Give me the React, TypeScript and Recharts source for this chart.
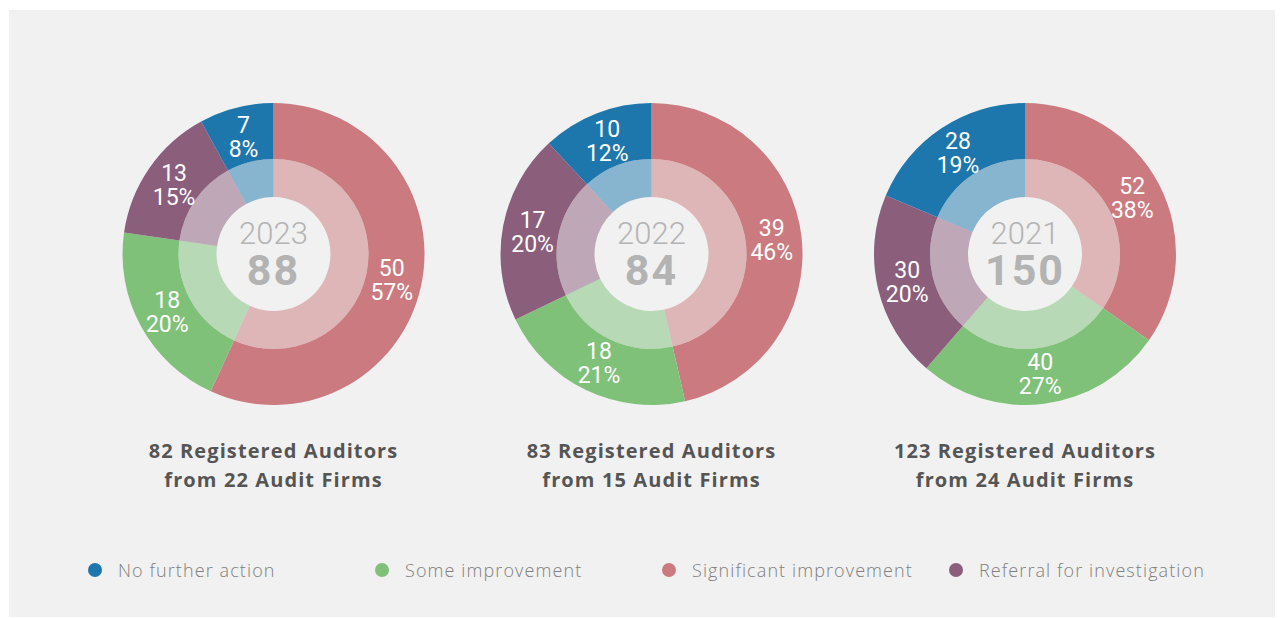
import { Pie, PieChart, Cell } from "recharts"

// clockwise from 12 o'clock: significant, some, referral, no further action
const categories = ["Significant improvement", "Some improvement", "Referral for investigation", "No further action"]
const colors = ["#cb7b80", "#80c17a", "#8b5e7c", "#1d77ac"]
const legendOrder = [3, 1, 0, 2]

const years = ["2023", "2022", "2021"]
const significant = [50, 39, 52]
const some = [18, 18, 40]
const referral = [13, 17, 30]
const noFurther = [7, 10, 28]

// percentages as printed on the chart
const significantPct = ["57%", "46%", "38%"]
const somePct = ["20%", "21%", "27%"]
const referralPct = ["15%", "20%", "20%"]
const noFurtherPct = ["8%", "12%", "19%"]

const auditors = [82, 83, 123]
const firms = [22, 15, 24]

const centersX = [264.5, 642.5, 1016]
const centerY = 244
const RAD = Math.PI / 180

const buildData = (i: number) => [
  { name: categories[0], value: significant[i], pct: significantPct[i] },
  { name: categories[1], value: some[i], pct: somePct[i] },
  { name: categories[2], value: referral[i], pct: referralPct[i] },
  { name: categories[3], value: noFurther[i], pct: noFurtherPct[i] },
]

const renderLabel = (p: any) => {
  const r = 121
  const x = p.cx + r * Math.cos(-p.midAngle * RAD)
  const y = p.cy + r * Math.sin(-p.midAngle * RAD)
  return (
    <text x={x} y={y} textAnchor="middle" fill="#ffffff" fontSize={23} fontFamily="Roboto" fontWeight={400}>
      <tspan x={x} dy={-4}>{p.payload.value}</tspan>
      <tspan x={x} dy={24}>{p.payload.pct}</tspan>
    </text>
  )
}

export default function App() {
  return (
    <div
      style={{
        position: "relative",
        width: 1266,
        height: 607,
        marginLeft: 1,
        marginTop: 2,
        background: "#f1f1f1",
        fontFamily: "Roboto",
      }}
    >
      <PieChart
        width={1266}
        height={430}
        margin={{ top: 0, right: 0, bottom: 0, left: 0 }}
        style={{ position: "absolute", left: 0, top: 0 }}
      >
        {years.map((year, i) => (
          <Pie
            key={`in-${year}`}
            data={buildData(i)}
            dataKey="value"
            cx={centersX[i]}
            cy={centerY}
            innerRadius={57}
            outerRadius={95}
            startAngle={90}
            endAngle={-270}
            stroke="none"
            isAnimationActive={false}
          >
            {categories.map((c, k) => (
              <Cell key={c} fill={colors[k]} fillOpacity={0.5} />
            ))}
          </Pie>
        ))}
        {years.map((year, i) => (
          <Pie
            key={`out-${year}`}
            data={buildData(i)}
            dataKey="value"
            cx={centersX[i]}
            cy={centerY}
            innerRadius={95}
            outerRadius={151}
            startAngle={90}
            endAngle={-270}
            stroke="none"
            label={renderLabel}
            labelLine={false}
            isAnimationActive={false}
          >
            {categories.map((c, k) => (
              <Cell key={c} fill={colors[k]} />
            ))}
          </Pie>
        ))}
      </PieChart>

      {years.map((year, i) => {
        const total = significant[i] + some[i] + referral[i] + noFurther[i]
        return (
          <div key={`c-${year}`}>
            <div
              style={{
                position: "absolute",
                left: centersX[i] - 60,
                width: 120,
                top: 224 - 13,
                height: 26,
                lineHeight: "26px",
                fontSize: 31,
                fontWeight: 300,
                color: "#b4b4b4",
                textAlign: "center",
              }}
            >
              {year}
            </div>
            <div
              style={{
                position: "absolute",
                left: centersX[i] - 60,
                width: 120,
                top: 260 - 18,
                height: 36,
                lineHeight: "36px",
                fontSize: 43,
                fontWeight: 700,
                letterSpacing: 2,
                color: "#b3b3b3",
                textAlign: "center",
              }}
            >
              {total}
            </div>
            <div
              style={{
                position: "absolute",
                left: centersX[i] - 180,
                width: 360,
                top: 426,
                fontSize: 20,
                lineHeight: "29px",
                fontWeight: 700,
                letterSpacing: 1.1,
                fontFamily: "'Open Sans'",
                color: "#555555",
                textAlign: "center",
              }}
            >
              {auditors[i]} Registered Auditors
              <br />
              from {firms[i]} Audit Firms
            </div>
          </div>
        )
      })}

      {legendOrder.map((k, j) => (
        <div
          key={categories[k]}
          style={{
            position: "absolute",
            left: 79 + j * 287,
            top: 548,
            height: 24,
            display: "flex",
            alignItems: "center",
            fontSize: 18,
            fontWeight: 300,
            letterSpacing: 1.1,
            fontFamily: "'Open Sans'",
            color: "#808080",
          }}
        >
          <span
            style={{
              display: "inline-block",
              width: 14,
              height: 14,
              borderRadius: 7,
              background: colors[k],
              marginRight: 16,
            }}
          />
          {categories[k]}
        </div>
      ))}
    </div>
  )
}
